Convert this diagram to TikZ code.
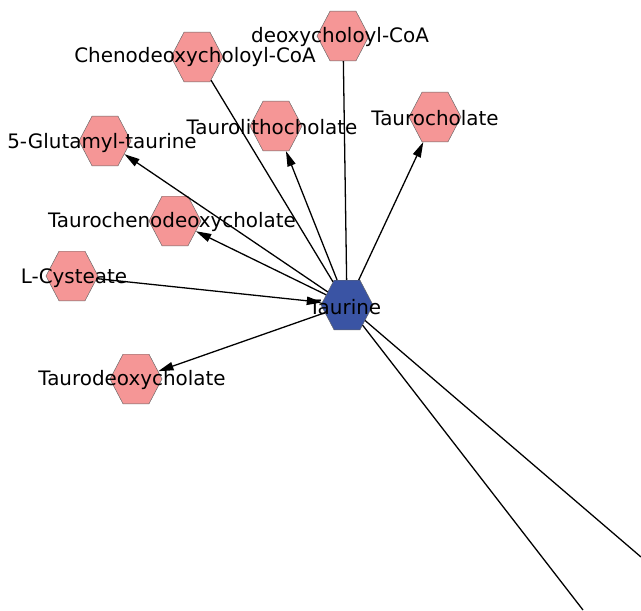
\documentclass[tikz,border=0pt]{standalone}
\usepackage{fontspec}
\setmainfont{DejaVu Sans}
\usetikzlibrary{shapes.geometric,arrows.meta}
\definecolor{metpink}{RGB}{245,150,150}
\definecolor{hubblue}{RGB}{58,84,164}
\begin{document}
\begin{tikzpicture}[x=0.03cm,y=-0.03cm]
    \tikzstyle{every node}+=[inner sep=0pt]
    \tikzstyle{hexa}=[regular polygon,regular polygon sides=6,minimum size=1.56cm,yscale=1.1,transform shape,draw=black!60,line width=0.4pt,fill=metpink]
    \tikzstyle{hub}=[hexa,fill=hubblue]
    \tikzstyle{lbl}=[font=\fontsize{17}{20}\selectfont]
    \tikzstyle{edge}=[black,line width=1.1pt]
    \tikzstyle{arr}=[edge,-{Triangle[length=0.46cm,width=0.25cm]}]
    \useasboundingbox (0,0) rectangle (641,610);
    \node [hub] (tau) at (347,305) {};
    \node [hexa] (deoxy) at (343,36) {};
    \node [hexa] (cheno) at (197,57) {};
    \node [hexa] (tlc) at (276,126) {};
    \node [hexa] (tc) at (435,117) {};
    \node [hexa] (glu) at (105,141) {};
    \node [hexa] (tcdc) at (175,221) {};
    \node [hexa] (cys) at (72,276) {};
    \node [hexa] (tdc) at (136,379) {};
    \coordinate (out1) at (641,557);
    \coordinate (out2) at (583,610);
    \draw [edge] (cheno) -- (tau);
    \draw [edge] (deoxy) -- (tau);
    \draw [arr] (tau) -- (tlc);
    \draw [arr] (tau) -- (tc);
    \draw [arr] (tau) -- (glu);
    \draw [arr] (tau) -- (tcdc);
    \draw [arr] (cys) -- (tau);
    \draw [arr] (tau) -- (tdc);
    \draw [edge] (tau) -- (out1);
    \draw [edge] (tau) -- (out2);
    \node [lbl] (tau-l) at (345,307) {Taurine};
    \node [lbl] (deoxy-l) at (340,37) {deoxycholoyl-CoA};
    \node [lbl] (cheno-l) at (195,57) {Chenodeoxycholoyl-CoA};
    \node [lbl] (tlc-l) at (272,127) {Taurolithocholate};
    \node [lbl] (tc-l) at (435,118) {Taurocholate};
    \node [lbl] (glu-l) at (102,143) {5-Glutamyl-taurine};
    \node [lbl] (tcdc-l) at (172,222) {Taurochenodeoxycholate};
    \node [lbl] (cys-l) at (74,278) {L-Cysteate};
    \node [lbl] (tdc-l) at (132,380) {Taurodeoxycholate};
\end{tikzpicture}
\end{document}
